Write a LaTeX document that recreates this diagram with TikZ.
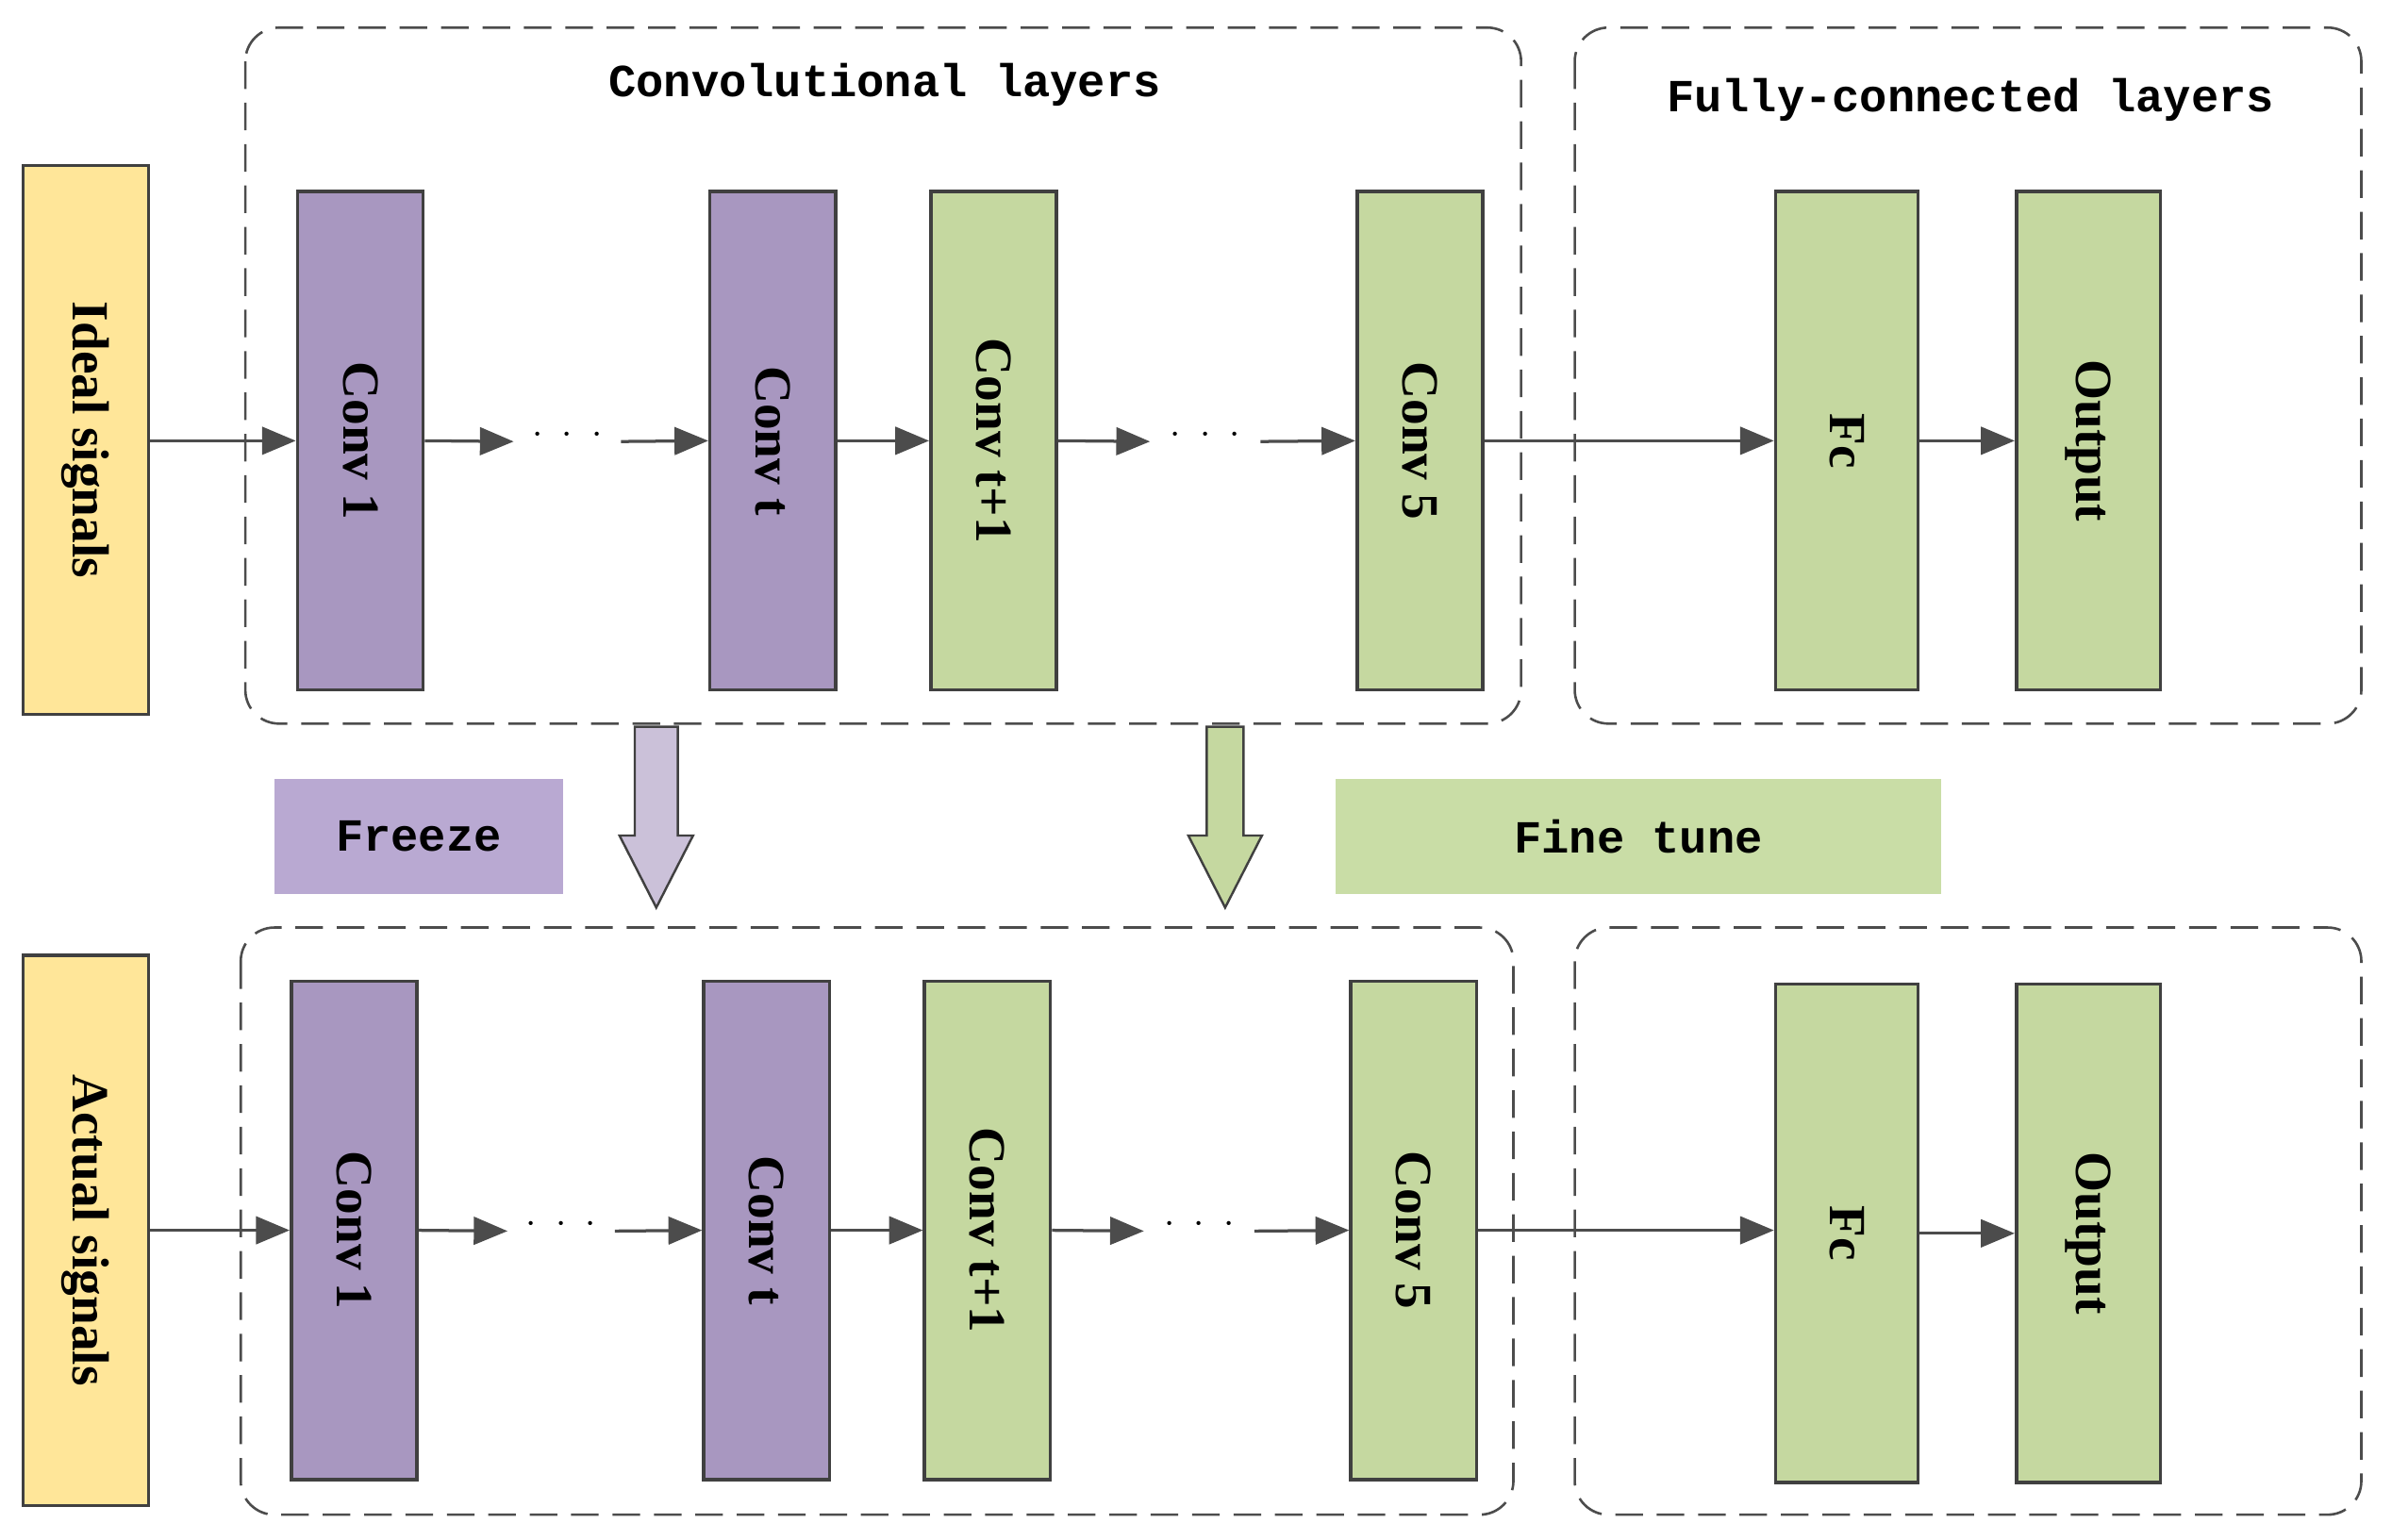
\documentclass[tikz,border=0pt]{standalone}
\usepackage{fontspec}
\setmainfont{Liberation Serif}
\newfontfamily\monof{Liberation Mono}
\usetikzlibrary{arrows.meta,shapes.arrows}
\definecolor{purp}{HTML}{A897C0}
\definecolor{grn}{HTML}{C5D8A0}
\definecolor{yel}{HTML}{FFE699}
\definecolor{lpurp}{HTML}{B9A9D2}
\definecolor{lgrn}{HTML}{C9DDA6}
\begin{document}
\begin{tikzpicture}[x=1pt,y=-1pt,
 lay/.style={draw=black!75,line width=2.2pt,minimum width=82pt,minimum height=325pt,inner sep=0pt},
 lbl/.style={rotate=-90,font=\bfseries\fontsize{34}{34}\selectfont},
 grp/.style={draw=black!70,line width=1.6pt,dash pattern=on 18pt off 9pt,rounded corners=22pt},
 con/.style={draw=black!70,line width=2pt,-{Triangle[length=22pt,width=18pt]}},
 dots/.style={font=\fontsize{34}{34}\selectfont}]
\useasboundingbox (0,0) rectangle (1560,1004.5);
% groups
\draw[grp] (160,18) rectangle (992,472);
\draw[grp] (1027,18) rectangle (1540,472);
\draw[grp] (157,605) rectangle (987,988);
\draw[grp] (1027,605) rectangle (1540,988);
\node[font=\monof\bfseries\fontsize{30}{30}\selectfont] (t1) at (577,55) {Convolutional layers};
\node[font=\monof\bfseries\fontsize{30}{30}\selectfont] (t2) at (1285,65) {Fully-connected layers};
% top row
\node[lay,fill=yel,minimum height=358pt] (is) at (56,287) {};
\node[lbl] at (is) {Ideal signals};
\node[lay,fill=purp] (a1) at (235,287.5) {}; \node[lbl] at (a1) {Conv 1};
\node[lay,fill=purp] (at) at (504,287.5) {}; \node[lbl] at (at) {Conv t};
\node[lay,fill=grn] (at1) at (648,287.5) {}; \node[lbl] at (at1) {Conv t+1};
\node[lay,fill=grn] (a5) at (926,287.5) {}; \node[lbl] at (a5) {Conv 5};
\node[lay,fill=grn,minimum width=93pt] (af) at (1204.5,287.5) {}; \node[lbl] at (af) {Fc};
\node[lay,fill=grn,minimum width=94pt] (ao) at (1362,287.5) {}; \node[lbl] at (ao) {Output};
\coordinate (ad1) at (335,288); \coordinate (ad2) at (405,288);
\coordinate (ad3) at (750,288); \coordinate (ad4) at (822,288);
\draw[con] (is.east|-a1) -- (a1.west);
\draw[con] (a1.east) -- (ad1);
\node[dots] (d1) at (370,284) {$\cdot\;\cdot\;\cdot$};
\draw[con] (ad2) -- (at.west);
\draw[con] (at.east) -- (at1.west);
\draw[con] (at1.east) -- (ad3);
\node[dots] (d2) at (786,284) {$\cdot\;\cdot\;\cdot$};
\draw[con] (ad4) -- (a5.west);
\draw[con] (a5.east) -- (af.west);
\draw[con] (af.east) -- (ao.west);
% bottom row
\node[lay,fill=yel,minimum height=359pt] (as) at (56,802.5) {};
\node[lbl] at (as) {Actual signals};
\node[lay,fill=purp] (b1) at (231,802.5) {}; \node[lbl] at (b1) {Conv 1};
\node[lay,fill=purp] (bt) at (500,802.5) {}; \node[lbl] at (bt) {Conv t};
\node[lay,fill=grn] (bt1) at (644,802.5) {}; \node[lbl] at (bt1) {Conv t+1};
\node[lay,fill=grn] (b5) at (922,802.5) {}; \node[lbl] at (b5) {Conv 5};
\node[lay,fill=grn,minimum width=93pt] (bf) at (1204.5,804.5) {}; \node[lbl] at (bf) {Fc};
\node[lay,fill=grn,minimum width=94pt] (bo) at (1362,804.5) {}; \node[lbl] at (bo) {Output};
\coordinate (bd1) at (331,803); \coordinate (bd2) at (401,803);
\coordinate (bd3) at (746,803); \coordinate (bd4) at (818,803);
\draw[con] (as.east|-b1) -- (b1.west);
\draw[con] (b1.east) -- (bd1);
\node[dots] at (366,799) {$\cdot\;\cdot\;\cdot$};
\draw[con] (bd2) -- (bt.west);
\draw[con] (bt.east) -- (bt1.west);
\draw[con] (bt1.east) -- (bd3);
\node[dots] at (782,799) {$\cdot\;\cdot\;\cdot$};
\draw[con] (bd4) -- (b5.west);
\draw[con] (b5.east) -- (bf.west|-b5.east);
\draw[con] (bf.east) -- (bo.west);
% freeze / fine tune
\node[fill=lpurp,minimum width=188pt,minimum height=75pt,font=\monof\bfseries\fontsize{30}{30}\selectfont] (fr) at (273,545.5) {Freeze};
\node[fill=lgrn,minimum width=395pt,minimum height=75pt,font=\monof\bfseries\fontsize{30}{30}\selectfont] (ft) at (1068.5,545.5) {Fine tune};
\draw[draw=black!75,line width=1.5pt,fill=purp!60] (414,474) -- (442,474) -- (442,545) -- (452,545) -- (428,592) -- (404,545) -- (414,545) -- cycle;
\draw[draw=black!75,line width=1.5pt,fill=grn] (787,474) -- (811,474) -- (811,545) -- (823,545) -- (799,592) -- (775,545) -- (787,545) -- cycle;
\end{tikzpicture}
\end{document}
